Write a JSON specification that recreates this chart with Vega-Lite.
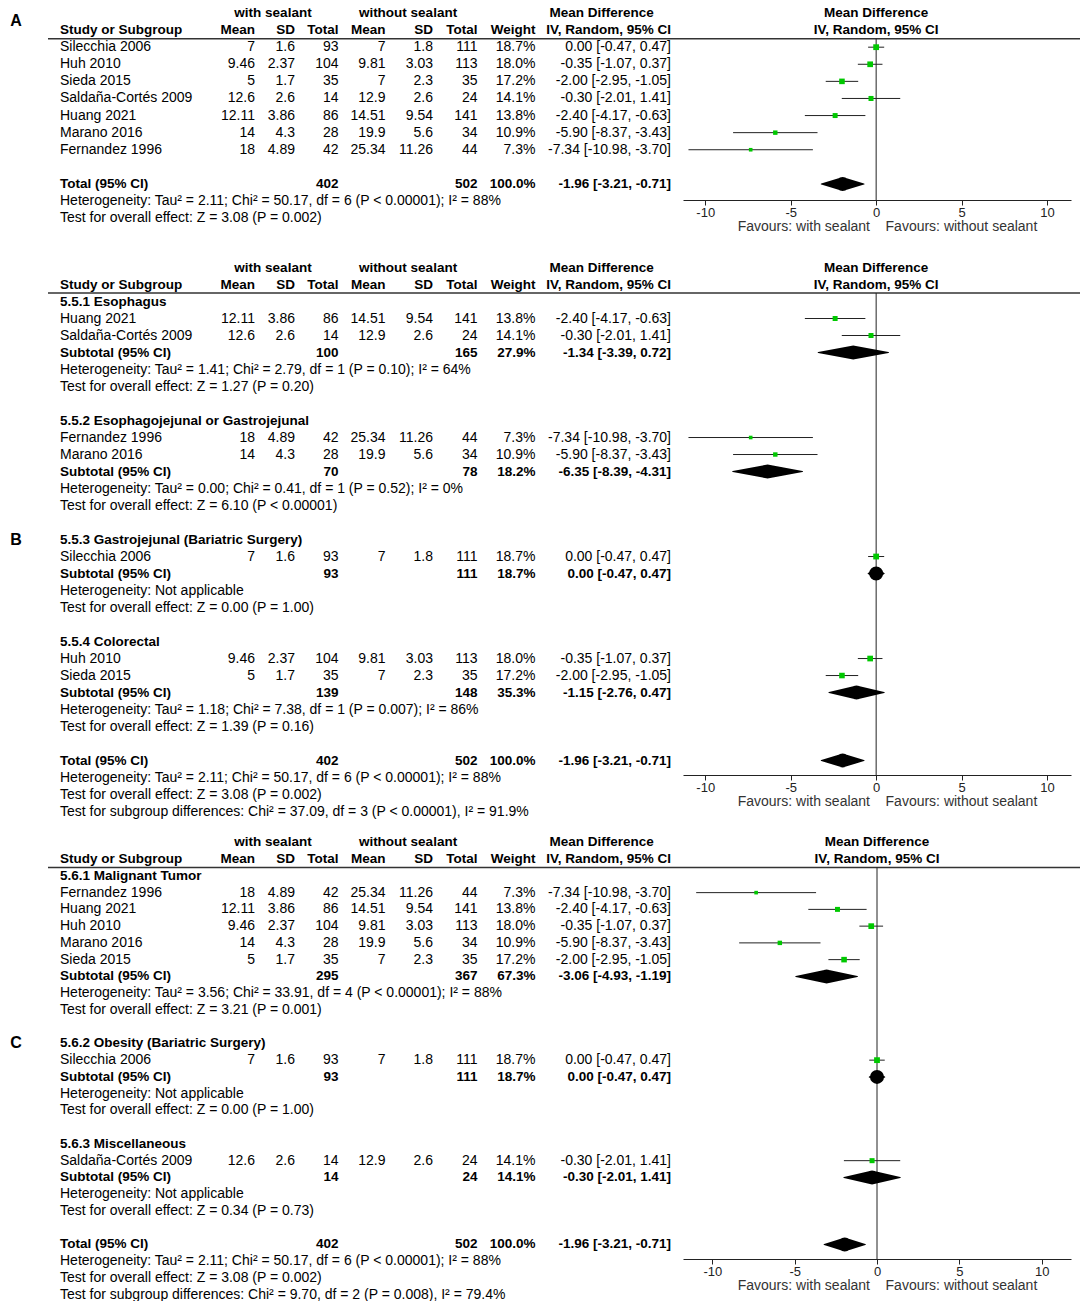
{
  "$schema": "https://vega.github.io/schema/vega-lite/v6.json",
  "padding": 0,
  "background": "white",
  "bounds": "flush",
  "spacing": 59,
  "config": {
    "view": {"stroke": null},
    "font": "Liberation Sans",
    "text": {"font": "Liberation Sans", "fontSize": 14, "baseline": "middle", "color": "#000"},
    "axis": {"labelFont": "Liberation Sans", "titleFont": "Liberation Sans"}
  },
  "datasets": {
    "A": [
      {"row": 0, "kind": "head1", "g1": "with sealant", "g2": "without sealant", "g3": "Mean Difference", "plot": "Mean Difference", "letter": "A"},
      {"row": 1, "kind": "head2", "name": "Study or Subgroup", "m1": "Mean", "sd1": "SD", "n1": "Total", "m2": "Mean", "sd2": "SD", "n2": "Total", "w": "Weight", "ci": "IV, Random, 95% CI", "plot": "IV, Random, 95% CI"},
      {"row": 2, "kind": "study", "name": "Silecchia 2006", "m1": "7", "sd1": "1.6", "n1": "93", "m2": "7", "sd2": "1.8", "n2": "111", "w": "18.7%", "wt": 18.7, "ci": "0.00 [-0.47, 0.47]", "md": 0, "lo": -0.47, "hi": 0.47},
      {"row": 3, "kind": "study", "name": "Huh 2010", "m1": "9.46", "sd1": "2.37", "n1": "104", "m2": "9.81", "sd2": "3.03", "n2": "113", "w": "18.0%", "wt": 18.0, "ci": "-0.35 [-1.07, 0.37]", "md": -0.35, "lo": -1.07, "hi": 0.37},
      {"row": 4, "kind": "study", "name": "Sieda 2015", "m1": "5", "sd1": "1.7", "n1": "35", "m2": "7", "sd2": "2.3", "n2": "35", "w": "17.2%", "wt": 17.2, "ci": "-2.00 [-2.95, -1.05]", "md": -2.0, "lo": -2.95, "hi": -1.05},
      {"row": 5, "kind": "study", "name": "Saldaña-Cortés 2009", "m1": "12.6", "sd1": "2.6", "n1": "14", "m2": "12.9", "sd2": "2.6", "n2": "24", "w": "14.1%", "wt": 14.1, "ci": "-0.30 [-2.01, 1.41]", "md": -0.3, "lo": -2.01, "hi": 1.41},
      {"row": 6, "kind": "study", "name": "Huang 2021", "m1": "12.11", "sd1": "3.86", "n1": "86", "m2": "14.51", "sd2": "9.54", "n2": "141", "w": "13.8%", "wt": 13.8, "ci": "-2.40 [-4.17, -0.63]", "md": -2.4, "lo": -4.17, "hi": -0.63},
      {"row": 7, "kind": "study", "name": "Marano 2016", "m1": "14", "sd1": "4.3", "n1": "28", "m2": "19.9", "sd2": "5.6", "n2": "34", "w": "10.9%", "wt": 10.9, "ci": "-5.90 [-8.37, -3.43]", "md": -5.9, "lo": -8.37, "hi": -3.43},
      {"row": 8, "kind": "study", "name": "Fernandez 1996", "m1": "18", "sd1": "4.89", "n1": "42", "m2": "25.34", "sd2": "11.26", "n2": "44", "w": "7.3%", "wt": 7.3, "ci": "-7.34 [-10.98, -3.70]", "md": -7.34, "lo": -10.98, "hi": -3.7},
      {"row": 10, "kind": "pooled", "name": "Total (95% CI)", "n1": "402", "n2": "502", "w": "100.0%", "ci": "-1.96 [-3.21, -0.71]", "md": -1.96, "lo": -3.21, "hi": -0.71},
      {"row": 11, "kind": "note", "name": "Heterogeneity: Tau² = 2.11; Chi² = 50.17, df = 6 (P < 0.00001); I² = 88%"},
      {"row": 12, "kind": "note", "name": "Test for overall effect: Z = 3.08 (P = 0.002)"}
    ],
    "B": [
      {"row": 0, "kind": "head1", "g1": "with sealant", "g2": "without sealant", "g3": "Mean Difference", "plot": "Mean Difference"},
      {"row": 1, "kind": "head2", "name": "Study or Subgroup", "m1": "Mean", "sd1": "SD", "n1": "Total", "m2": "Mean", "sd2": "SD", "n2": "Total", "w": "Weight", "ci": "IV, Random, 95% CI", "plot": "IV, Random, 95% CI"},
      {"row": 2, "kind": "label", "name": "5.5.1 Esophagus"},
      {"row": 3, "kind": "study", "name": "Huang 2021", "m1": "12.11", "sd1": "3.86", "n1": "86", "m2": "14.51", "sd2": "9.54", "n2": "141", "w": "13.8%", "wt": 13.8, "ci": "-2.40 [-4.17, -0.63]", "md": -2.4, "lo": -4.17, "hi": -0.63},
      {"row": 4, "kind": "study", "name": "Saldaña-Cortés 2009", "m1": "12.6", "sd1": "2.6", "n1": "14", "m2": "12.9", "sd2": "2.6", "n2": "24", "w": "14.1%", "wt": 14.1, "ci": "-0.30 [-2.01, 1.41]", "md": -0.3, "lo": -2.01, "hi": 1.41},
      {"row": 5, "kind": "pooled", "name": "Subtotal (95% CI)", "n1": "100", "n2": "165", "w": "27.9%", "ci": "-1.34 [-3.39, 0.72]", "md": -1.34, "lo": -3.39, "hi": 0.72},
      {"row": 6, "kind": "note", "name": "Heterogeneity: Tau² = 1.41; Chi² = 2.79, df = 1 (P = 0.10); I² = 64%"},
      {"row": 7, "kind": "note", "name": "Test for overall effect: Z = 1.27 (P = 0.20)"},
      {"row": 9, "kind": "label", "name": "5.5.2 Esophagojejunal or Gastrojejunal"},
      {"row": 10, "kind": "study", "name": "Fernandez 1996", "m1": "18", "sd1": "4.89", "n1": "42", "m2": "25.34", "sd2": "11.26", "n2": "44", "w": "7.3%", "wt": 7.3, "ci": "-7.34 [-10.98, -3.70]", "md": -7.34, "lo": -10.98, "hi": -3.7},
      {"row": 11, "kind": "study", "name": "Marano 2016", "m1": "14", "sd1": "4.3", "n1": "28", "m2": "19.9", "sd2": "5.6", "n2": "34", "w": "10.9%", "wt": 10.9, "ci": "-5.90 [-8.37, -3.43]", "md": -5.9, "lo": -8.37, "hi": -3.43},
      {"row": 12, "kind": "pooled", "name": "Subtotal (95% CI)", "n1": "70", "n2": "78", "w": "18.2%", "ci": "-6.35 [-8.39, -4.31]", "md": -6.35, "lo": -8.39, "hi": -4.31},
      {"row": 13, "kind": "note", "name": "Heterogeneity: Tau² = 0.00; Chi² = 0.41, df = 1 (P = 0.52); I² = 0%"},
      {"row": 14, "kind": "note", "name": "Test for overall effect: Z = 6.10 (P < 0.00001)"},
      {"row": 16, "kind": "label", "name": "5.5.3 Gastrojejunal (Bariatric Surgery)", "letter": "B"},
      {"row": 17, "kind": "study", "name": "Silecchia 2006", "m1": "7", "sd1": "1.6", "n1": "93", "m2": "7", "sd2": "1.8", "n2": "111", "w": "18.7%", "wt": 18.7, "ci": "0.00 [-0.47, 0.47]", "md": 0, "lo": -0.47, "hi": 0.47},
      {"row": 18, "kind": "pooled", "name": "Subtotal (95% CI)", "n1": "93", "n2": "111", "w": "18.7%", "ci": "0.00 [-0.47, 0.47]", "md": 0, "lo": -0.47, "hi": 0.47},
      {"row": 19, "kind": "note", "name": "Heterogeneity: Not applicable"},
      {"row": 20, "kind": "note", "name": "Test for overall effect: Z = 0.00 (P = 1.00)"},
      {"row": 22, "kind": "label", "name": "5.5.4 Colorectal"},
      {"row": 23, "kind": "study", "name": "Huh 2010", "m1": "9.46", "sd1": "2.37", "n1": "104", "m2": "9.81", "sd2": "3.03", "n2": "113", "w": "18.0%", "wt": 18.0, "ci": "-0.35 [-1.07, 0.37]", "md": -0.35, "lo": -1.07, "hi": 0.37},
      {"row": 24, "kind": "study", "name": "Sieda 2015", "m1": "5", "sd1": "1.7", "n1": "35", "m2": "7", "sd2": "2.3", "n2": "35", "w": "17.2%", "wt": 17.2, "ci": "-2.00 [-2.95, -1.05]", "md": -2.0, "lo": -2.95, "hi": -1.05},
      {"row": 25, "kind": "pooled", "name": "Subtotal (95% CI)", "n1": "139", "n2": "148", "w": "35.3%", "ci": "-1.15 [-2.76, 0.47]", "md": -1.15, "lo": -2.76, "hi": 0.47},
      {"row": 26, "kind": "note", "name": "Heterogeneity: Tau² = 1.18; Chi² = 7.38, df = 1 (P = 0.007); I² = 86%"},
      {"row": 27, "kind": "note", "name": "Test for overall effect: Z = 1.39 (P = 0.16)"},
      {"row": 29, "kind": "pooled", "name": "Total (95% CI)", "n1": "402", "n2": "502", "w": "100.0%", "ci": "-1.96 [-3.21, -0.71]", "md": -1.96, "lo": -3.21, "hi": -0.71},
      {"row": 30, "kind": "note", "name": "Heterogeneity: Tau² = 2.11; Chi² = 50.17, df = 6 (P < 0.00001); I² = 88%"},
      {"row": 31, "kind": "note", "name": "Test for overall effect: Z = 3.08 (P = 0.002)"},
      {"row": 32, "kind": "note", "name": "Test for subgroup differences: Chi² = 37.09, df = 3 (P < 0.00001), I² = 91.9%"}
    ],
    "C": [
      {"row": 0, "kind": "head1", "g1": "with sealant", "g2": "without sealant", "g3": "Mean Difference", "plot": "Mean Difference"},
      {"row": 1, "kind": "head2", "name": "Study or Subgroup", "m1": "Mean", "sd1": "SD", "n1": "Total", "m2": "Mean", "sd2": "SD", "n2": "Total", "w": "Weight", "ci": "IV, Random, 95% CI", "plot": "IV, Random, 95% CI"},
      {"row": 2, "kind": "label", "name": "5.6.1 Malignant Tumor"},
      {"row": 3, "kind": "study", "name": "Fernandez 1996", "m1": "18", "sd1": "4.89", "n1": "42", "m2": "25.34", "sd2": "11.26", "n2": "44", "w": "7.3%", "wt": 7.3, "ci": "-7.34 [-10.98, -3.70]", "md": -7.34, "lo": -10.98, "hi": -3.7},
      {"row": 4, "kind": "study", "name": "Huang 2021", "m1": "12.11", "sd1": "3.86", "n1": "86", "m2": "14.51", "sd2": "9.54", "n2": "141", "w": "13.8%", "wt": 13.8, "ci": "-2.40 [-4.17, -0.63]", "md": -2.4, "lo": -4.17, "hi": -0.63},
      {"row": 5, "kind": "study", "name": "Huh 2010", "m1": "9.46", "sd1": "2.37", "n1": "104", "m2": "9.81", "sd2": "3.03", "n2": "113", "w": "18.0%", "wt": 18.0, "ci": "-0.35 [-1.07, 0.37]", "md": -0.35, "lo": -1.07, "hi": 0.37},
      {"row": 6, "kind": "study", "name": "Marano 2016", "m1": "14", "sd1": "4.3", "n1": "28", "m2": "19.9", "sd2": "5.6", "n2": "34", "w": "10.9%", "wt": 10.9, "ci": "-5.90 [-8.37, -3.43]", "md": -5.9, "lo": -8.37, "hi": -3.43},
      {"row": 7, "kind": "study", "name": "Sieda 2015", "m1": "5", "sd1": "1.7", "n1": "35", "m2": "7", "sd2": "2.3", "n2": "35", "w": "17.2%", "wt": 17.2, "ci": "-2.00 [-2.95, -1.05]", "md": -2.0, "lo": -2.95, "hi": -1.05},
      {"row": 8, "kind": "pooled", "name": "Subtotal (95% CI)", "n1": "295", "n2": "367", "w": "67.3%", "ci": "-3.06 [-4.93, -1.19]", "md": -3.06, "lo": -4.93, "hi": -1.19},
      {"row": 9, "kind": "note", "name": "Heterogeneity: Tau² = 3.56; Chi² = 33.91, df = 4 (P < 0.00001); I² = 88%"},
      {"row": 10, "kind": "note", "name": "Test for overall effect: Z = 3.21 (P = 0.001)"},
      {"row": 12, "kind": "label", "name": "5.6.2 Obesity (Bariatric Surgery)", "letter": "C"},
      {"row": 13, "kind": "study", "name": "Silecchia 2006", "m1": "7", "sd1": "1.6", "n1": "93", "m2": "7", "sd2": "1.8", "n2": "111", "w": "18.7%", "wt": 18.7, "ci": "0.00 [-0.47, 0.47]", "md": 0, "lo": -0.47, "hi": 0.47},
      {"row": 14, "kind": "pooled", "name": "Subtotal (95% CI)", "n1": "93", "n2": "111", "w": "18.7%", "ci": "0.00 [-0.47, 0.47]", "md": 0, "lo": -0.47, "hi": 0.47},
      {"row": 15, "kind": "note", "name": "Heterogeneity: Not applicable"},
      {"row": 16, "kind": "note", "name": "Test for overall effect: Z = 0.00 (P = 1.00)"},
      {"row": 18, "kind": "label", "name": "5.6.3 Miscellaneous"},
      {"row": 19, "kind": "study", "name": "Saldaña-Cortés 2009", "m1": "12.6", "sd1": "2.6", "n1": "14", "m2": "12.9", "sd2": "2.6", "n2": "24", "w": "14.1%", "wt": 14.1, "ci": "-0.30 [-2.01, 1.41]", "md": -0.3, "lo": -2.01, "hi": 1.41},
      {"row": 20, "kind": "pooled", "name": "Subtotal (95% CI)", "n1": "14", "n2": "24", "w": "14.1%", "ci": "-0.30 [-2.01, 1.41]", "md": -0.3, "lo": -2.01, "hi": 1.41},
      {"row": 21, "kind": "note", "name": "Heterogeneity: Not applicable"},
      {"row": 22, "kind": "note", "name": "Test for overall effect: Z = 0.34 (P = 0.73)"},
      {"row": 24, "kind": "pooled", "name": "Total (95% CI)", "n1": "402", "n2": "502", "w": "100.0%", "ci": "-1.96 [-3.21, -0.71]", "md": -1.96, "lo": -3.21, "hi": -0.71},
      {"row": 25, "kind": "note", "name": "Heterogeneity: Tau² = 2.11; Chi² = 50.17, df = 6 (P < 0.00001); I² = 88%"},
      {"row": 26, "kind": "note", "name": "Test for overall effect: Z = 3.08 (P = 0.002)"},
      {"row": 27, "kind": "note", "name": "Test for subgroup differences: Chi² = 9.70, df = 2 (P = 0.008), I² = 79.4%"}
    ]
  },
  "vconcat": [
    {
      "width": 1080, "height": 200,
      "data": {"name": "A"},
      "resolve": {"scale": {"x": "independent"}},
      "layer": [
        {"mark": {"type": "rule", "color": "#333", "strokeWidth": 1.5}, "transform": [{"filter": "datum.kind == 'head2'"}],
         "encoding": {"x": {"datum": 48, "type": "quantitative", "scale": {"domain": [0, 1080], "nice": false, "zero": false}, "axis": null}, "x2": {"datum": 1080}, "y": {"datum": 1.5, "type": "quantitative", "scale": {"domain": [-0.76, 10.94], "reverse": true, "nice": false, "zero": false}, "axis": null}}},
        {"mark": {"type": "text", "align": "center", "fontWeight": "bold", "fontSize": 16, "dy": 8}, "transform": [{"filter": "isValid(datum.letter)"}],
         "encoding": {"x": {"datum": 16, "type": "quantitative", "scale": {"domain": [0, 1080], "nice": false, "zero": false}, "axis": null}, "y": {"field": "row", "type": "quantitative", "scale": {"domain": [-0.76, 10.94], "reverse": true, "nice": false, "zero": false}, "axis": null}, "text": {"field": "letter", "type": "nominal"}}},
        {"mark": {"type": "text", "align": "left", "fontWeight": {"expr": "datum.kind == 'study' || datum.kind == 'note' ? 'normal' : 'bold'"}, "fontSize": {"expr": "datum.kind == 'study' || datum.kind == 'note' ? 14 : 13.5"}}, "transform": [{"filter": "isValid(datum.name)"}],
         "encoding": {"x": {"datum": 60, "type": "quantitative", "scale": {"domain": [0, 1080], "nice": false, "zero": false}, "axis": null}, "y": {"field": "row", "type": "quantitative", "scale": {"domain": [-0.76, 10.94], "reverse": true, "nice": false, "zero": false}, "axis": null}, "text": {"field": "name", "type": "nominal"}}},
        {"mark": {"type": "text", "align": "right", "fontWeight": {"expr": "datum.kind == 'study' || datum.kind == 'note' ? 'normal' : 'bold'"}, "fontSize": {"expr": "datum.kind == 'study' || datum.kind == 'note' ? 14 : 13.5"}}, "transform": [{"filter": "isValid(datum.m1)"}],
         "encoding": {"x": {"datum": 255, "type": "quantitative", "scale": {"domain": [0, 1080], "nice": false, "zero": false}, "axis": null}, "y": {"field": "row", "type": "quantitative", "scale": {"domain": [-0.76, 10.94], "reverse": true, "nice": false, "zero": false}, "axis": null}, "text": {"field": "m1", "type": "nominal"}}},
        {"mark": {"type": "text", "align": "right", "fontWeight": {"expr": "datum.kind == 'study' || datum.kind == 'note' ? 'normal' : 'bold'"}, "fontSize": {"expr": "datum.kind == 'study' || datum.kind == 'note' ? 14 : 13.5"}}, "transform": [{"filter": "isValid(datum.sd1)"}],
         "encoding": {"x": {"datum": 295, "type": "quantitative", "scale": {"domain": [0, 1080], "nice": false, "zero": false}, "axis": null}, "y": {"field": "row", "type": "quantitative", "scale": {"domain": [-0.76, 10.94], "reverse": true, "nice": false, "zero": false}, "axis": null}, "text": {"field": "sd1", "type": "nominal"}}},
        {"mark": {"type": "text", "align": "right", "fontWeight": {"expr": "datum.kind == 'study' || datum.kind == 'note' ? 'normal' : 'bold'"}, "fontSize": {"expr": "datum.kind == 'study' || datum.kind == 'note' ? 14 : 13.5"}}, "transform": [{"filter": "isValid(datum.n1)"}],
         "encoding": {"x": {"datum": 338.5, "type": "quantitative", "scale": {"domain": [0, 1080], "nice": false, "zero": false}, "axis": null}, "y": {"field": "row", "type": "quantitative", "scale": {"domain": [-0.76, 10.94], "reverse": true, "nice": false, "zero": false}, "axis": null}, "text": {"field": "n1", "type": "nominal"}}},
        {"mark": {"type": "text", "align": "right", "fontWeight": {"expr": "datum.kind == 'study' || datum.kind == 'note' ? 'normal' : 'bold'"}, "fontSize": {"expr": "datum.kind == 'study' || datum.kind == 'note' ? 14 : 13.5"}}, "transform": [{"filter": "isValid(datum.m2)"}],
         "encoding": {"x": {"datum": 385.5, "type": "quantitative", "scale": {"domain": [0, 1080], "nice": false, "zero": false}, "axis": null}, "y": {"field": "row", "type": "quantitative", "scale": {"domain": [-0.76, 10.94], "reverse": true, "nice": false, "zero": false}, "axis": null}, "text": {"field": "m2", "type": "nominal"}}},
        {"mark": {"type": "text", "align": "right", "fontWeight": {"expr": "datum.kind == 'study' || datum.kind == 'note' ? 'normal' : 'bold'"}, "fontSize": {"expr": "datum.kind == 'study' || datum.kind == 'note' ? 14 : 13.5"}}, "transform": [{"filter": "isValid(datum.sd2)"}],
         "encoding": {"x": {"datum": 433, "type": "quantitative", "scale": {"domain": [0, 1080], "nice": false, "zero": false}, "axis": null}, "y": {"field": "row", "type": "quantitative", "scale": {"domain": [-0.76, 10.94], "reverse": true, "nice": false, "zero": false}, "axis": null}, "text": {"field": "sd2", "type": "nominal"}}},
        {"mark": {"type": "text", "align": "right", "fontWeight": {"expr": "datum.kind == 'study' || datum.kind == 'note' ? 'normal' : 'bold'"}, "fontSize": {"expr": "datum.kind == 'study' || datum.kind == 'note' ? 14 : 13.5"}}, "transform": [{"filter": "isValid(datum.n2)"}],
         "encoding": {"x": {"datum": 477.5, "type": "quantitative", "scale": {"domain": [0, 1080], "nice": false, "zero": false}, "axis": null}, "y": {"field": "row", "type": "quantitative", "scale": {"domain": [-0.76, 10.94], "reverse": true, "nice": false, "zero": false}, "axis": null}, "text": {"field": "n2", "type": "nominal"}}},
        {"mark": {"type": "text", "align": "right", "fontWeight": {"expr": "datum.kind == 'study' || datum.kind == 'note' ? 'normal' : 'bold'"}, "fontSize": {"expr": "datum.kind == 'study' || datum.kind == 'note' ? 14 : 13.5"}}, "transform": [{"filter": "isValid(datum.w)"}],
         "encoding": {"x": {"datum": 535.5, "type": "quantitative", "scale": {"domain": [0, 1080], "nice": false, "zero": false}, "axis": null}, "y": {"field": "row", "type": "quantitative", "scale": {"domain": [-0.76, 10.94], "reverse": true, "nice": false, "zero": false}, "axis": null}, "text": {"field": "w", "type": "nominal"}}},
        {"mark": {"type": "text", "align": "right", "fontWeight": {"expr": "datum.kind == 'study' || datum.kind == 'note' ? 'normal' : 'bold'"}, "fontSize": {"expr": "datum.kind == 'study' || datum.kind == 'note' ? 14 : 13.5"}}, "transform": [{"filter": "isValid(datum.ci)"}],
         "encoding": {"x": {"datum": 671, "type": "quantitative", "scale": {"domain": [0, 1080], "nice": false, "zero": false}, "axis": null}, "y": {"field": "row", "type": "quantitative", "scale": {"domain": [-0.76, 10.94], "reverse": true, "nice": false, "zero": false}, "axis": null}, "text": {"field": "ci", "type": "nominal"}}},
        {"mark": {"type": "text", "align": "center", "fontWeight": "bold", "fontSize": 13.5}, "transform": [{"filter": "isValid(datum.g1)"}],
         "encoding": {"x": {"datum": 273, "type": "quantitative", "scale": {"domain": [0, 1080], "nice": false, "zero": false}, "axis": null}, "y": {"field": "row", "type": "quantitative", "scale": {"domain": [-0.76, 10.94], "reverse": true, "nice": false, "zero": false}, "axis": null}, "text": {"field": "g1", "type": "nominal"}}},
        {"mark": {"type": "text", "align": "center", "fontWeight": "bold", "fontSize": 13.5}, "transform": [{"filter": "isValid(datum.g2)"}],
         "encoding": {"x": {"datum": 408, "type": "quantitative", "scale": {"domain": [0, 1080], "nice": false, "zero": false}, "axis": null}, "y": {"field": "row", "type": "quantitative", "scale": {"domain": [-0.76, 10.94], "reverse": true, "nice": false, "zero": false}, "axis": null}, "text": {"field": "g2", "type": "nominal"}}},
        {"mark": {"type": "text", "align": "left", "fontWeight": "bold", "fontSize": 13.5}, "transform": [{"filter": "isValid(datum.g3)"}],
         "encoding": {"x": {"datum": 549.5, "type": "quantitative", "scale": {"domain": [0, 1080], "nice": false, "zero": false}, "axis": null}, "y": {"field": "row", "type": "quantitative", "scale": {"domain": [-0.76, 10.94], "reverse": true, "nice": false, "zero": false}, "axis": null}, "text": {"field": "g3", "type": "nominal"}}},
        {"mark": {"type": "rule", "color": "#222", "strokeWidth": 1}, "transform": [{"filter": "datum.kind == 'head2'"}],
         "encoding": {"x": {"datum": 0, "type": "quantitative", "scale": {"domain": [-11.3, 11.4], "range": [683, 1071], "nice": false, "zero": false},
           "axis": {"values": [-10, -5, 0, 5, 10], "labelExpr": "toString(datum.value)", "title": "Favours: with sealant\u00a0\u00a0\u00a0 Favours: without sealant", "titleX": 887, "grid": false, "labelFontSize": 13, "labelColor": "#222", "domainColor": "#222", "tickColor": "#222", "tickSize": 5, "labelPadding": 1, "titleFontSize": 14, "titleFontWeight": "normal", "titleColor": "#333", "titlePadding": 0, "labelFlush": false, "labelOverlap": false}},
           "y": {"datum": 1.5, "type": "quantitative", "scale": {"domain": [-0.76, 10.94], "reverse": true, "nice": false, "zero": false}, "axis": null}, "y2": {"value": "height"}}},
        {"mark": {"type": "rule", "color": "#222", "strokeWidth": 1}, "transform": [{"filter": "datum.kind == 'study'"}],
         "encoding": {"x": {"field": "lo", "type": "quantitative", "scale": {"domain": [-11.3, 11.4], "range": [683, 1071], "nice": false, "zero": false}, "axis": null}, "x2": {"field": "hi"}, "y": {"field": "row", "type": "quantitative", "scale": {"domain": [-0.76, 10.94], "reverse": true, "nice": false, "zero": false}, "axis": null}}},
        {"mark": {"type": "point", "shape": "square", "filled": true, "color": "#00c800", "opacity": 1, "strokeWidth": 0}, "transform": [{"filter": "datum.kind == 'study'"}],
         "encoding": {"x": {"field": "md", "type": "quantitative", "scale": {"domain": [-11.3, 11.4], "range": [683, 1071], "nice": false, "zero": false}, "axis": null}, "y": {"field": "row", "type": "quantitative", "scale": {"domain": [-0.76, 10.94], "reverse": true, "nice": false, "zero": false}, "axis": null}, "size": {"field": "wt", "type": "quantitative", "scale": {"domain": [0, 20], "range": [0, 36]}, "legend": null}}},
        {"mark": {"type": "trail", "color": "#000", "opacity": 1}, "transform": [{"filter": "datum.kind == 'pooled'"}, {"fold": ["lo", "md", "hi"], "as": ["key", "xv"]}],
         "encoding": {"x": {"field": "xv", "type": "quantitative", "scale": {"domain": [-11.3, 11.4], "range": [683, 1071], "nice": false, "zero": false}, "axis": null}, "y": {"field": "row", "type": "quantitative", "scale": {"domain": [-0.76, 10.94], "reverse": true, "nice": false, "zero": false}, "axis": null}, "size": {"condition": {"test": "datum.key == 'md'", "value": 14}, "value": 0}, "detail": {"field": "row", "type": "nominal"}, "order": {"field": "xv", "type": "quantitative"}}},
        {"mark": {"type": "text", "align": "center", "fontWeight": "bold", "fontSize": 13.5}, "transform": [{"filter": "isValid(datum.plot)"}],
         "encoding": {"x": {"datum": 0, "type": "quantitative", "scale": {"domain": [-11.3, 11.4], "range": [683, 1071], "nice": false, "zero": false}, "axis": null}, "y": {"field": "row", "type": "quantitative", "scale": {"domain": [-0.76, 10.94], "reverse": true, "nice": false, "zero": false}, "axis": null}, "text": {"field": "plot", "type": "nominal"}}}
      ]
    },
    {
      "width": 1080, "height": 516,
      "data": {"name": "B"},
      "resolve": {"scale": {"x": "independent"}},
      "layer": [
        {"mark": {"type": "rule", "color": "#333", "strokeWidth": 1.5}, "transform": [{"filter": "datum.kind == 'head2'"}],
         "encoding": {"x": {"datum": 48, "type": "quantitative", "scale": {"domain": [0, 1080], "nice": false, "zero": false}, "axis": null}, "x2": {"datum": 1080}, "y": {"datum": 1.5, "type": "quantitative", "scale": {"domain": [-0.5, 29.85], "reverse": true, "nice": false, "zero": false}, "axis": null}}},
        {"mark": {"type": "text", "align": "center", "fontWeight": "bold", "fontSize": 16}, "transform": [{"filter": "isValid(datum.letter)"}],
         "encoding": {"x": {"datum": 16, "type": "quantitative", "scale": {"domain": [0, 1080], "nice": false, "zero": false}, "axis": null}, "y": {"field": "row", "type": "quantitative", "scale": {"domain": [-0.5, 29.85], "reverse": true, "nice": false, "zero": false}, "axis": null}, "text": {"field": "letter", "type": "nominal"}}},
        {"mark": {"type": "text", "align": "left", "fontWeight": {"expr": "datum.kind == 'study' || datum.kind == 'note' ? 'normal' : 'bold'"}, "fontSize": {"expr": "datum.kind == 'study' || datum.kind == 'note' ? 14 : 13.5"}}, "transform": [{"filter": "isValid(datum.name)"}],
         "encoding": {"x": {"datum": 60, "type": "quantitative", "scale": {"domain": [0, 1080], "nice": false, "zero": false}, "axis": null}, "y": {"field": "row", "type": "quantitative", "scale": {"domain": [-0.5, 29.85], "reverse": true, "nice": false, "zero": false}, "axis": null}, "text": {"field": "name", "type": "nominal"}}},
        {"mark": {"type": "text", "align": "right", "fontWeight": {"expr": "datum.kind == 'study' || datum.kind == 'note' ? 'normal' : 'bold'"}, "fontSize": {"expr": "datum.kind == 'study' || datum.kind == 'note' ? 14 : 13.5"}}, "transform": [{"filter": "isValid(datum.m1)"}],
         "encoding": {"x": {"datum": 255, "type": "quantitative", "scale": {"domain": [0, 1080], "nice": false, "zero": false}, "axis": null}, "y": {"field": "row", "type": "quantitative", "scale": {"domain": [-0.5, 29.85], "reverse": true, "nice": false, "zero": false}, "axis": null}, "text": {"field": "m1", "type": "nominal"}}},
        {"mark": {"type": "text", "align": "right", "fontWeight": {"expr": "datum.kind == 'study' || datum.kind == 'note' ? 'normal' : 'bold'"}, "fontSize": {"expr": "datum.kind == 'study' || datum.kind == 'note' ? 14 : 13.5"}}, "transform": [{"filter": "isValid(datum.sd1)"}],
         "encoding": {"x": {"datum": 295, "type": "quantitative", "scale": {"domain": [0, 1080], "nice": false, "zero": false}, "axis": null}, "y": {"field": "row", "type": "quantitative", "scale": {"domain": [-0.5, 29.85], "reverse": true, "nice": false, "zero": false}, "axis": null}, "text": {"field": "sd1", "type": "nominal"}}},
        {"mark": {"type": "text", "align": "right", "fontWeight": {"expr": "datum.kind == 'study' || datum.kind == 'note' ? 'normal' : 'bold'"}, "fontSize": {"expr": "datum.kind == 'study' || datum.kind == 'note' ? 14 : 13.5"}}, "transform": [{"filter": "isValid(datum.n1)"}],
         "encoding": {"x": {"datum": 338.5, "type": "quantitative", "scale": {"domain": [0, 1080], "nice": false, "zero": false}, "axis": null}, "y": {"field": "row", "type": "quantitative", "scale": {"domain": [-0.5, 29.85], "reverse": true, "nice": false, "zero": false}, "axis": null}, "text": {"field": "n1", "type": "nominal"}}},
        {"mark": {"type": "text", "align": "right", "fontWeight": {"expr": "datum.kind == 'study' || datum.kind == 'note' ? 'normal' : 'bold'"}, "fontSize": {"expr": "datum.kind == 'study' || datum.kind == 'note' ? 14 : 13.5"}}, "transform": [{"filter": "isValid(datum.m2)"}],
         "encoding": {"x": {"datum": 385.5, "type": "quantitative", "scale": {"domain": [0, 1080], "nice": false, "zero": false}, "axis": null}, "y": {"field": "row", "type": "quantitative", "scale": {"domain": [-0.5, 29.85], "reverse": true, "nice": false, "zero": false}, "axis": null}, "text": {"field": "m2", "type": "nominal"}}},
        {"mark": {"type": "text", "align": "right", "fontWeight": {"expr": "datum.kind == 'study' || datum.kind == 'note' ? 'normal' : 'bold'"}, "fontSize": {"expr": "datum.kind == 'study' || datum.kind == 'note' ? 14 : 13.5"}}, "transform": [{"filter": "isValid(datum.sd2)"}],
         "encoding": {"x": {"datum": 433, "type": "quantitative", "scale": {"domain": [0, 1080], "nice": false, "zero": false}, "axis": null}, "y": {"field": "row", "type": "quantitative", "scale": {"domain": [-0.5, 29.85], "reverse": true, "nice": false, "zero": false}, "axis": null}, "text": {"field": "sd2", "type": "nominal"}}},
        {"mark": {"type": "text", "align": "right", "fontWeight": {"expr": "datum.kind == 'study' || datum.kind == 'note' ? 'normal' : 'bold'"}, "fontSize": {"expr": "datum.kind == 'study' || datum.kind == 'note' ? 14 : 13.5"}}, "transform": [{"filter": "isValid(datum.n2)"}],
         "encoding": {"x": {"datum": 477.5, "type": "quantitative", "scale": {"domain": [0, 1080], "nice": false, "zero": false}, "axis": null}, "y": {"field": "row", "type": "quantitative", "scale": {"domain": [-0.5, 29.85], "reverse": true, "nice": false, "zero": false}, "axis": null}, "text": {"field": "n2", "type": "nominal"}}},
        {"mark": {"type": "text", "align": "right", "fontWeight": {"expr": "datum.kind == 'study' || datum.kind == 'note' ? 'normal' : 'bold'"}, "fontSize": {"expr": "datum.kind == 'study' || datum.kind == 'note' ? 14 : 13.5"}}, "transform": [{"filter": "isValid(datum.w)"}],
         "encoding": {"x": {"datum": 535.5, "type": "quantitative", "scale": {"domain": [0, 1080], "nice": false, "zero": false}, "axis": null}, "y": {"field": "row", "type": "quantitative", "scale": {"domain": [-0.5, 29.85], "reverse": true, "nice": false, "zero": false}, "axis": null}, "text": {"field": "w", "type": "nominal"}}},
        {"mark": {"type": "text", "align": "right", "fontWeight": {"expr": "datum.kind == 'study' || datum.kind == 'note' ? 'normal' : 'bold'"}, "fontSize": {"expr": "datum.kind == 'study' || datum.kind == 'note' ? 14 : 13.5"}}, "transform": [{"filter": "isValid(datum.ci)"}],
         "encoding": {"x": {"datum": 671, "type": "quantitative", "scale": {"domain": [0, 1080], "nice": false, "zero": false}, "axis": null}, "y": {"field": "row", "type": "quantitative", "scale": {"domain": [-0.5, 29.85], "reverse": true, "nice": false, "zero": false}, "axis": null}, "text": {"field": "ci", "type": "nominal"}}},
        {"mark": {"type": "text", "align": "center", "fontWeight": "bold", "fontSize": 13.5}, "transform": [{"filter": "isValid(datum.g1)"}],
         "encoding": {"x": {"datum": 273, "type": "quantitative", "scale": {"domain": [0, 1080], "nice": false, "zero": false}, "axis": null}, "y": {"field": "row", "type": "quantitative", "scale": {"domain": [-0.5, 29.85], "reverse": true, "nice": false, "zero": false}, "axis": null}, "text": {"field": "g1", "type": "nominal"}}},
        {"mark": {"type": "text", "align": "center", "fontWeight": "bold", "fontSize": 13.5}, "transform": [{"filter": "isValid(datum.g2)"}],
         "encoding": {"x": {"datum": 408, "type": "quantitative", "scale": {"domain": [0, 1080], "nice": false, "zero": false}, "axis": null}, "y": {"field": "row", "type": "quantitative", "scale": {"domain": [-0.5, 29.85], "reverse": true, "nice": false, "zero": false}, "axis": null}, "text": {"field": "g2", "type": "nominal"}}},
        {"mark": {"type": "text", "align": "left", "fontWeight": "bold", "fontSize": 13.5}, "transform": [{"filter": "isValid(datum.g3)"}],
         "encoding": {"x": {"datum": 549.5, "type": "quantitative", "scale": {"domain": [0, 1080], "nice": false, "zero": false}, "axis": null}, "y": {"field": "row", "type": "quantitative", "scale": {"domain": [-0.5, 29.85], "reverse": true, "nice": false, "zero": false}, "axis": null}, "text": {"field": "g3", "type": "nominal"}}},
        {"mark": {"type": "rule", "color": "#222", "strokeWidth": 1}, "transform": [{"filter": "datum.kind == 'head2'"}],
         "encoding": {"x": {"datum": 0, "type": "quantitative", "scale": {"domain": [-11.3, 11.4], "range": [683, 1071], "nice": false, "zero": false},
           "axis": {"values": [-10, -5, 0, 5, 10], "labelExpr": "toString(datum.value)", "title": "Favours: with sealant\u00a0\u00a0\u00a0 Favours: without sealant", "titleX": 887, "grid": false, "labelFontSize": 13, "labelColor": "#222", "domainColor": "#222", "tickColor": "#222", "tickSize": 5, "labelPadding": 1, "titleFontSize": 14, "titleFontWeight": "normal", "titleColor": "#333", "titlePadding": 0, "labelFlush": false, "labelOverlap": false}},
           "y": {"datum": 1.5, "type": "quantitative", "scale": {"domain": [-0.5, 29.85], "reverse": true, "nice": false, "zero": false}, "axis": null}, "y2": {"value": "height"}}},
        {"mark": {"type": "rule", "color": "#222", "strokeWidth": 1}, "transform": [{"filter": "datum.kind == 'study'"}],
         "encoding": {"x": {"field": "lo", "type": "quantitative", "scale": {"domain": [-11.3, 11.4], "range": [683, 1071], "nice": false, "zero": false}, "axis": null}, "x2": {"field": "hi"}, "y": {"field": "row", "type": "quantitative", "scale": {"domain": [-0.5, 29.85], "reverse": true, "nice": false, "zero": false}, "axis": null}}},
        {"mark": {"type": "point", "shape": "square", "filled": true, "color": "#00c800", "opacity": 1, "strokeWidth": 0}, "transform": [{"filter": "datum.kind == 'study'"}],
         "encoding": {"x": {"field": "md", "type": "quantitative", "scale": {"domain": [-11.3, 11.4], "range": [683, 1071], "nice": false, "zero": false}, "axis": null}, "y": {"field": "row", "type": "quantitative", "scale": {"domain": [-0.5, 29.85], "reverse": true, "nice": false, "zero": false}, "axis": null}, "size": {"field": "wt", "type": "quantitative", "scale": {"domain": [0, 20], "range": [0, 36]}, "legend": null}}},
        {"mark": {"type": "trail", "color": "#000", "opacity": 1}, "transform": [{"filter": "datum.kind == 'pooled'"}, {"fold": ["lo", "md", "hi"], "as": ["key", "xv"]}],
         "encoding": {"x": {"field": "xv", "type": "quantitative", "scale": {"domain": [-11.3, 11.4], "range": [683, 1071], "nice": false, "zero": false}, "axis": null}, "y": {"field": "row", "type": "quantitative", "scale": {"domain": [-0.5, 29.85], "reverse": true, "nice": false, "zero": false}, "axis": null}, "size": {"condition": {"test": "datum.key == 'md'", "value": 14}, "value": 0}, "detail": {"field": "row", "type": "nominal"}, "order": {"field": "xv", "type": "quantitative"}}},
        {"mark": {"type": "text", "align": "center", "fontWeight": "bold", "fontSize": 13.5}, "transform": [{"filter": "isValid(datum.plot)"}],
         "encoding": {"x": {"datum": 0, "type": "quantitative", "scale": {"domain": [-11.3, 11.4], "range": [683, 1071], "nice": false, "zero": false}, "axis": null}, "y": {"field": "row", "type": "quantitative", "scale": {"domain": [-0.5, 29.85], "reverse": true, "nice": false, "zero": false}, "axis": null}, "text": {"field": "plot", "type": "nominal"}}}
      ]
    },
    {
      "width": 1080, "height": 425,
      "data": {"name": "C"},
      "resolve": {"scale": {"x": "independent"}},
      "layer": [
        {"mark": {"type": "rule", "color": "#333", "strokeWidth": 1.5}, "transform": [{"filter": "datum.kind == 'head2'"}],
         "encoding": {"x": {"datum": 48, "type": "quantitative", "scale": {"domain": [0, 1080], "nice": false, "zero": false}, "axis": null}, "x2": {"datum": 1080}, "y": {"datum": 1.5, "type": "quantitative", "scale": {"domain": [-0.5, 24.87], "reverse": true, "nice": false, "zero": false}, "axis": null}}},
        {"mark": {"type": "text", "align": "center", "fontWeight": "bold", "fontSize": 16}, "transform": [{"filter": "isValid(datum.letter)"}],
         "encoding": {"x": {"datum": 16, "type": "quantitative", "scale": {"domain": [0, 1080], "nice": false, "zero": false}, "axis": null}, "y": {"field": "row", "type": "quantitative", "scale": {"domain": [-0.5, 24.87], "reverse": true, "nice": false, "zero": false}, "axis": null}, "text": {"field": "letter", "type": "nominal"}}},
        {"mark": {"type": "text", "align": "left", "fontWeight": {"expr": "datum.kind == 'study' || datum.kind == 'note' ? 'normal' : 'bold'"}, "fontSize": {"expr": "datum.kind == 'study' || datum.kind == 'note' ? 14 : 13.5"}}, "transform": [{"filter": "isValid(datum.name)"}],
         "encoding": {"x": {"datum": 60, "type": "quantitative", "scale": {"domain": [0, 1080], "nice": false, "zero": false}, "axis": null}, "y": {"field": "row", "type": "quantitative", "scale": {"domain": [-0.5, 24.87], "reverse": true, "nice": false, "zero": false}, "axis": null}, "text": {"field": "name", "type": "nominal"}}},
        {"mark": {"type": "text", "align": "right", "fontWeight": {"expr": "datum.kind == 'study' || datum.kind == 'note' ? 'normal' : 'bold'"}, "fontSize": {"expr": "datum.kind == 'study' || datum.kind == 'note' ? 14 : 13.5"}}, "transform": [{"filter": "isValid(datum.m1)"}],
         "encoding": {"x": {"datum": 255, "type": "quantitative", "scale": {"domain": [0, 1080], "nice": false, "zero": false}, "axis": null}, "y": {"field": "row", "type": "quantitative", "scale": {"domain": [-0.5, 24.87], "reverse": true, "nice": false, "zero": false}, "axis": null}, "text": {"field": "m1", "type": "nominal"}}},
        {"mark": {"type": "text", "align": "right", "fontWeight": {"expr": "datum.kind == 'study' || datum.kind == 'note' ? 'normal' : 'bold'"}, "fontSize": {"expr": "datum.kind == 'study' || datum.kind == 'note' ? 14 : 13.5"}}, "transform": [{"filter": "isValid(datum.sd1)"}],
         "encoding": {"x": {"datum": 295, "type": "quantitative", "scale": {"domain": [0, 1080], "nice": false, "zero": false}, "axis": null}, "y": {"field": "row", "type": "quantitative", "scale": {"domain": [-0.5, 24.87], "reverse": true, "nice": false, "zero": false}, "axis": null}, "text": {"field": "sd1", "type": "nominal"}}},
        {"mark": {"type": "text", "align": "right", "fontWeight": {"expr": "datum.kind == 'study' || datum.kind == 'note' ? 'normal' : 'bold'"}, "fontSize": {"expr": "datum.kind == 'study' || datum.kind == 'note' ? 14 : 13.5"}}, "transform": [{"filter": "isValid(datum.n1)"}],
         "encoding": {"x": {"datum": 338.5, "type": "quantitative", "scale": {"domain": [0, 1080], "nice": false, "zero": false}, "axis": null}, "y": {"field": "row", "type": "quantitative", "scale": {"domain": [-0.5, 24.87], "reverse": true, "nice": false, "zero": false}, "axis": null}, "text": {"field": "n1", "type": "nominal"}}},
        {"mark": {"type": "text", "align": "right", "fontWeight": {"expr": "datum.kind == 'study' || datum.kind == 'note' ? 'normal' : 'bold'"}, "fontSize": {"expr": "datum.kind == 'study' || datum.kind == 'note' ? 14 : 13.5"}}, "transform": [{"filter": "isValid(datum.m2)"}],
         "encoding": {"x": {"datum": 385.5, "type": "quantitative", "scale": {"domain": [0, 1080], "nice": false, "zero": false}, "axis": null}, "y": {"field": "row", "type": "quantitative", "scale": {"domain": [-0.5, 24.87], "reverse": true, "nice": false, "zero": false}, "axis": null}, "text": {"field": "m2", "type": "nominal"}}},
        {"mark": {"type": "text", "align": "right", "fontWeight": {"expr": "datum.kind == 'study' || datum.kind == 'note' ? 'normal' : 'bold'"}, "fontSize": {"expr": "datum.kind == 'study' || datum.kind == 'note' ? 14 : 13.5"}}, "transform": [{"filter": "isValid(datum.sd2)"}],
         "encoding": {"x": {"datum": 433, "type": "quantitative", "scale": {"domain": [0, 1080], "nice": false, "zero": false}, "axis": null}, "y": {"field": "row", "type": "quantitative", "scale": {"domain": [-0.5, 24.87], "reverse": true, "nice": false, "zero": false}, "axis": null}, "text": {"field": "sd2", "type": "nominal"}}},
        {"mark": {"type": "text", "align": "right", "fontWeight": {"expr": "datum.kind == 'study' || datum.kind == 'note' ? 'normal' : 'bold'"}, "fontSize": {"expr": "datum.kind == 'study' || datum.kind == 'note' ? 14 : 13.5"}}, "transform": [{"filter": "isValid(datum.n2)"}],
         "encoding": {"x": {"datum": 477.5, "type": "quantitative", "scale": {"domain": [0, 1080], "nice": false, "zero": false}, "axis": null}, "y": {"field": "row", "type": "quantitative", "scale": {"domain": [-0.5, 24.87], "reverse": true, "nice": false, "zero": false}, "axis": null}, "text": {"field": "n2", "type": "nominal"}}},
        {"mark": {"type": "text", "align": "right", "fontWeight": {"expr": "datum.kind == 'study' || datum.kind == 'note' ? 'normal' : 'bold'"}, "fontSize": {"expr": "datum.kind == 'study' || datum.kind == 'note' ? 14 : 13.5"}}, "transform": [{"filter": "isValid(datum.w)"}],
         "encoding": {"x": {"datum": 535.5, "type": "quantitative", "scale": {"domain": [0, 1080], "nice": false, "zero": false}, "axis": null}, "y": {"field": "row", "type": "quantitative", "scale": {"domain": [-0.5, 24.87], "reverse": true, "nice": false, "zero": false}, "axis": null}, "text": {"field": "w", "type": "nominal"}}},
        {"mark": {"type": "text", "align": "right", "fontWeight": {"expr": "datum.kind == 'study' || datum.kind == 'note' ? 'normal' : 'bold'"}, "fontSize": {"expr": "datum.kind == 'study' || datum.kind == 'note' ? 14 : 13.5"}}, "transform": [{"filter": "isValid(datum.ci)"}],
         "encoding": {"x": {"datum": 671, "type": "quantitative", "scale": {"domain": [0, 1080], "nice": false, "zero": false}, "axis": null}, "y": {"field": "row", "type": "quantitative", "scale": {"domain": [-0.5, 24.87], "reverse": true, "nice": false, "zero": false}, "axis": null}, "text": {"field": "ci", "type": "nominal"}}},
        {"mark": {"type": "text", "align": "center", "fontWeight": "bold", "fontSize": 13.5}, "transform": [{"filter": "isValid(datum.g1)"}],
         "encoding": {"x": {"datum": 273, "type": "quantitative", "scale": {"domain": [0, 1080], "nice": false, "zero": false}, "axis": null}, "y": {"field": "row", "type": "quantitative", "scale": {"domain": [-0.5, 24.87], "reverse": true, "nice": false, "zero": false}, "axis": null}, "text": {"field": "g1", "type": "nominal"}}},
        {"mark": {"type": "text", "align": "center", "fontWeight": "bold", "fontSize": 13.5}, "transform": [{"filter": "isValid(datum.g2)"}],
         "encoding": {"x": {"datum": 408, "type": "quantitative", "scale": {"domain": [0, 1080], "nice": false, "zero": false}, "axis": null}, "y": {"field": "row", "type": "quantitative", "scale": {"domain": [-0.5, 24.87], "reverse": true, "nice": false, "zero": false}, "axis": null}, "text": {"field": "g2", "type": "nominal"}}},
        {"mark": {"type": "text", "align": "left", "fontWeight": "bold", "fontSize": 13.5}, "transform": [{"filter": "isValid(datum.g3)"}],
         "encoding": {"x": {"datum": 549.5, "type": "quantitative", "scale": {"domain": [0, 1080], "nice": false, "zero": false}, "axis": null}, "y": {"field": "row", "type": "quantitative", "scale": {"domain": [-0.5, 24.87], "reverse": true, "nice": false, "zero": false}, "axis": null}, "text": {"field": "g3", "type": "nominal"}}},
        {"mark": {"type": "rule", "color": "#222", "strokeWidth": 1}, "transform": [{"filter": "datum.kind == 'head2'"}],
         "encoding": {"x": {"datum": 0, "type": "quantitative", "scale": {"domain": [-11.78, 11.78], "range": [683, 1071], "nice": false, "zero": false},
           "axis": {"values": [-10, -5, 0, 5, 10], "labelExpr": "toString(datum.value)", "title": "Favours: with sealant\u00a0\u00a0\u00a0 Favours: without sealant", "titleX": 887, "grid": false, "labelFontSize": 13, "labelColor": "#222", "domainColor": "#222", "tickColor": "#222", "tickSize": 5, "labelPadding": 1, "titleFontSize": 14, "titleFontWeight": "normal", "titleColor": "#333", "titlePadding": 0, "labelFlush": false, "labelOverlap": false}},
           "y": {"datum": 1.5, "type": "quantitative", "scale": {"domain": [-0.5, 24.87], "reverse": true, "nice": false, "zero": false}, "axis": null}, "y2": {"value": "height"}}},
        {"mark": {"type": "rule", "color": "#222", "strokeWidth": 1}, "transform": [{"filter": "datum.kind == 'study'"}],
         "encoding": {"x": {"field": "lo", "type": "quantitative", "scale": {"domain": [-11.78, 11.78], "range": [683, 1071], "nice": false, "zero": false}, "axis": null}, "x2": {"field": "hi"}, "y": {"field": "row", "type": "quantitative", "scale": {"domain": [-0.5, 24.87], "reverse": true, "nice": false, "zero": false}, "axis": null}}},
        {"mark": {"type": "point", "shape": "square", "filled": true, "color": "#00c800", "opacity": 1, "strokeWidth": 0}, "transform": [{"filter": "datum.kind == 'study'"}],
         "encoding": {"x": {"field": "md", "type": "quantitative", "scale": {"domain": [-11.78, 11.78], "range": [683, 1071], "nice": false, "zero": false}, "axis": null}, "y": {"field": "row", "type": "quantitative", "scale": {"domain": [-0.5, 24.87], "reverse": true, "nice": false, "zero": false}, "axis": null}, "size": {"field": "wt", "type": "quantitative", "scale": {"domain": [0, 20], "range": [0, 36]}, "legend": null}}},
        {"mark": {"type": "trail", "color": "#000", "opacity": 1}, "transform": [{"filter": "datum.kind == 'pooled'"}, {"fold": ["lo", "md", "hi"], "as": ["key", "xv"]}],
         "encoding": {"x": {"field": "xv", "type": "quantitative", "scale": {"domain": [-11.78, 11.78], "range": [683, 1071], "nice": false, "zero": false}, "axis": null}, "y": {"field": "row", "type": "quantitative", "scale": {"domain": [-0.5, 24.87], "reverse": true, "nice": false, "zero": false}, "axis": null}, "size": {"condition": {"test": "datum.key == 'md'", "value": 14}, "value": 0}, "detail": {"field": "row", "type": "nominal"}, "order": {"field": "xv", "type": "quantitative"}}},
        {"mark": {"type": "text", "align": "center", "fontWeight": "bold", "fontSize": 13.5}, "transform": [{"filter": "isValid(datum.plot)"}],
         "encoding": {"x": {"datum": 0, "type": "quantitative", "scale": {"domain": [-11.78, 11.78], "range": [683, 1071], "nice": false, "zero": false}, "axis": null}, "y": {"field": "row", "type": "quantitative", "scale": {"domain": [-0.5, 24.87], "reverse": true, "nice": false, "zero": false}, "axis": null}, "text": {"field": "plot", "type": "nominal"}}}
      ]
    }
  ]
}
